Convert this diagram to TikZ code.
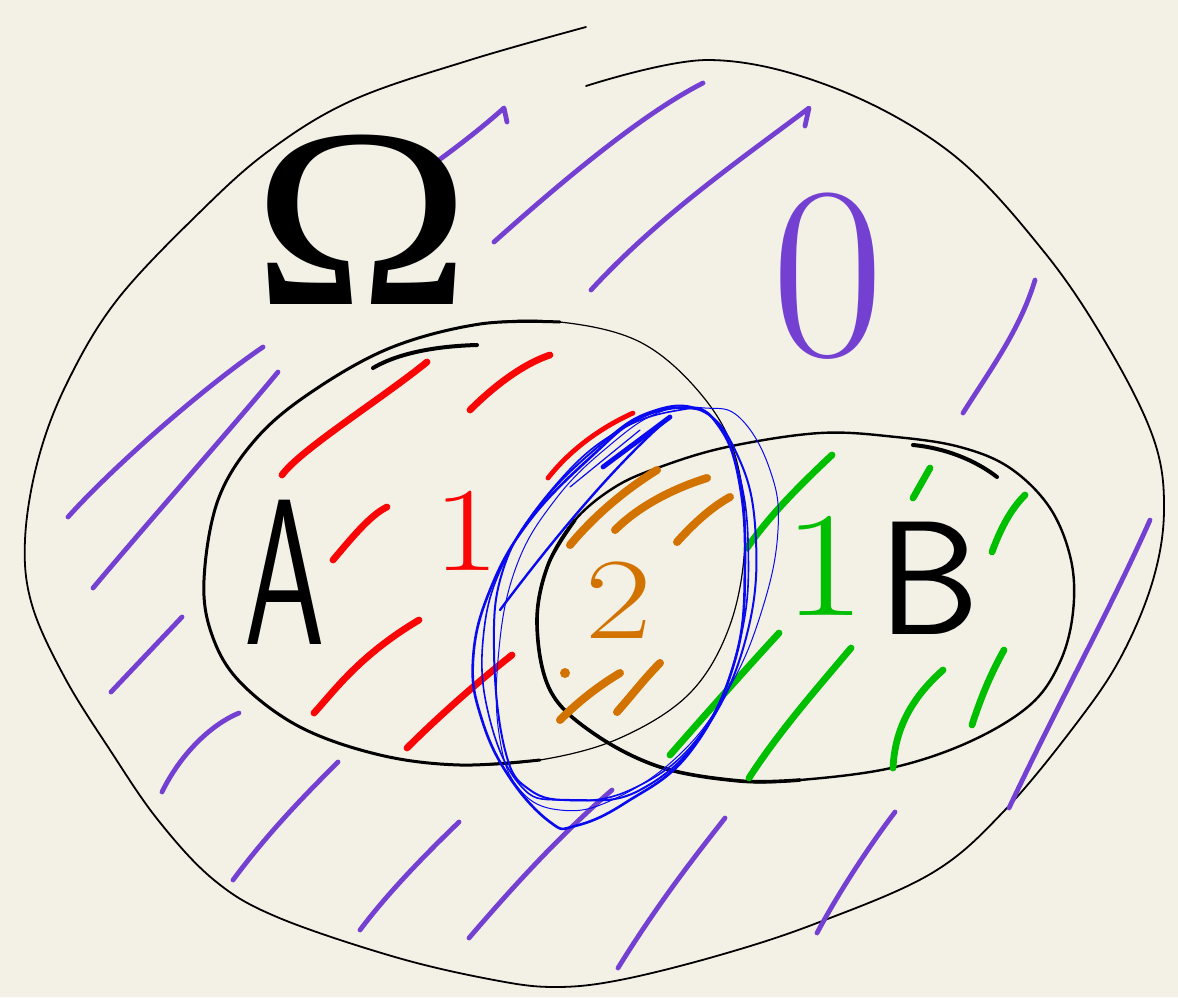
\documentclass[tikz,border=0pt]{standalone}
\usepackage{fontspec}
\newfontfamily\omegafont{Liberation Serif}
\definecolor{paper}{RGB}{243,240,230}
\definecolor{omegapurple}{RGB}{115,64,210}
\definecolor{setred}{RGB}{250,5,5}
\definecolor{setgreen}{RGB}{0,190,0}
\definecolor{setorange}{RGB}{210,115,0}
\definecolor{setblue}{RGB}{10,10,240}

\begin{document}
\begin{tikzpicture}[x=0.5pt,y=-0.5pt,
  pen/.style={line cap=round,line join=round},
  rim/.style={pen,black,line width=0.9pt},
  hatchO/.style={pen,omegapurple,line width=2.4pt},
  hatchA/.style={pen,setred,line width=3.4pt},
  hatchB/.style={pen,setgreen,line width=3.4pt},
  hatchAB/.style={pen,setorange,line width=4pt},
  blueloop/.style={pen,setblue},
  lab/.style={inner sep=0pt}]
  \fill[paper] (0,0) rectangle (1178,997);
  \useasboundingbox (0,0) rectangle (1178,997);

  \draw[rim] plot[smooth,tension=0.6] coordinates {(586,27) (470,60) (353,100) (270,150) (200,212) (117,300) (67,383) (38,460) (25,540) (32,605) (65,678) (110,750) (158,820) (214,880) (277,917) (395,957) (494,980) (555,987) (620,980) (720,955) (817,923) (932,873) (1005,810) (1079,720) (1122,655) (1153,580) (1164,510) (1154,440) (1110,350) (1045,253) (951,153) (832,87) (708,60) (586,86)};

  \draw[rim,line width=0.6pt] plot[smooth cycle,tension=0.6] coordinates {(204,580) (218,500) (255,440) (310,393) (390,348) (480,324) (560,322) (640,342) (700,393) (735,455) (745,540) (730,625) (690,693) (620,738) (540,760) (460,765) (380,755) (300,727) (240,682) (212,635)};
  \draw[rim,line width=1.5pt] plot[smooth,tension=0.6] coordinates {(540,760) (460,765) (380,755) (300,727) (240,682) (212,635) (204,580) (218,500) (255,440) (310,393) (390,348) (480,324) (560,322)};
  \draw[rim,line width=2pt] (373,368) .. controls (400,352) and (440,346) .. (477,345);

  \draw[rim,line width=1.2pt] plot[smooth cycle,tension=0.6] coordinates {(537,623) (548,565) (575,520) (615,487) (660,467) (727,447) (820,433) (896,437) (960,447) (1010,468) (1050,508) (1071,560) (1073,612) (1060,662) (1030,705) (969,742) (891,768) (800,780) (740,781) (660,767) (593,733) (550,690)};
  \draw[rim,line width=1.8pt] plot[smooth,tension=0.6] coordinates {(575,520) (548,565) (537,623) (550,690) (593,733) (660,767) (740,781) (800,780)};
  \draw[rim,line width=2pt] (913,445) .. controls (945,448) and (975,460) .. (997,477);

  \draw[hatchO] (432,165) .. controls (460,145) and (485,125) .. (504,108) -- (507,122);
  \draw[hatchO] (494,242) .. controls (580,165) and (650,110) .. (703,83);
  \draw[hatchO] (591,290) .. controls (660,215) and (740,160) .. (809,108) -- (805,126);
  \draw[hatchO] (963,413) .. controls (990,370) and (1020,330) .. (1035,280);
  \draw[hatchO] (68,517) .. controls (110,470) and (200,390) .. (263,347);
  \draw[hatchO] (93,588) .. controls (150,520) and (230,430) .. (278,372);
  \draw[hatchO] (111,692) -- (182,617);
  \draw[hatchO] (162,792) .. controls (180,755) and (210,725) .. (239,713);
  \draw[hatchO] (233,880) .. controls (270,830) and (310,790) .. (338,762);
  \draw[hatchO] (360,930) .. controls (390,890) and (430,850) .. (459,822);
  \draw[hatchO] (469,938) .. controls (510,890) and (560,835) .. (612,790);
  \draw[hatchO] (618,968) .. controls (660,900) and (700,850) .. (725,818);
  \draw[hatchO] (817,933) .. controls (840,890) and (870,845) .. (895,812);
  \draw[hatchO] (1009,808) .. controls (1060,700) and (1110,610) .. (1150,520);

  \draw[hatchA] (282,475) .. controls (300,450) and (380,400) .. (427,362);
  \draw[hatchA] (470,410) .. controls (490,390) and (520,365) .. (550,355);
  \draw[hatchA] (333,560) .. controls (350,540) and (370,515) .. (387,507);
  \draw[hatchA] (314,713) .. controls (335,690) and (360,655) .. (419,620);
  \draw[hatchA] (407,748) .. controls (440,715) and (480,680) .. (512,655);
  \draw[hatchA,line width=2.4pt] (548,478) .. controls (570,450) and (600,428) .. (633,413);

  \draw[hatchB] (747,548) .. controls (770,515) and (800,485) .. (832,455);
  \draw[hatchB] (913,498) -- (930,468);
  \draw[hatchB] (992,552) .. controls (1000,530) and (1010,510) .. (1025,495);
  \draw[hatchB] (670,755) .. controls (705,715) and (745,670) .. (779,633);
  \draw[hatchB] (749,778) .. controls (780,730) and (820,685) .. (851,648);
  \draw[hatchB] (893,768) .. controls (895,725) and (915,695) .. (943,670);
  \draw[hatchB] (972,725) .. controls (980,700) and (990,675) .. (1004,650);

  \draw[hatchAB] (570,545) .. controls (595,515) and (625,490) .. (657,470);
  \draw[hatchAB] (615,530) .. controls (640,505) and (675,488) .. (707,478);
  \draw[hatchAB] (677,542) .. controls (695,522) and (712,507) .. (730,497);
  \draw[hatchAB] (617,712) .. controls (632,695) and (645,678) .. (660,663);
  \draw[hatchAB] (560,720) .. controls (580,700) and (600,685) .. (620,673);
  \fill[setorange] (565,673) circle (2.5pt);

  \node[lab,xscale=1.15] (omega) at (362,220) {\omegafont\fontsize{128}{128}\selectfont Ω};
  \node[lab,xscale=0.62] (labA) at (285,572) {\sffamily\fontsize{104}{104}\selectfont A};
  \node[lab,setred,xscale=1.2] (oneA) at (467,531) {\fontsize{60}{60}\selectfont 1};
  \node[lab,setorange,xscale=1.25] (two) at (619,600) {\fontsize{58}{58}\selectfont 2};
  \node[lab,omegapurple] (zero) at (828,276) {\fontsize{123}{123}\selectfont 0};
  \node[lab,setgreen,xscale=1.2] (oneB) at (825,566) {\fontsize{75}{75}\selectfont 1};
  \node[lab] (labB) at (929,578) {\sffamily\fontsize{81}{81}\selectfont B};

  \draw[blueloop,line width=1.3pt] plot[smooth cycle,tension=0.7] coordinates {(690,408) (640,418) (593,455) (530,520) (490,590) (473,660) (482,720) (510,778) (550,822) (575,826) (625,803) (690,752) (735,660) (745,560) (738,475) (718,425)};
  \draw[blueloop,line width=1pt] plot[smooth cycle,tension=0.7] coordinates {(700,410) (650,412) (600,445) (540,505) (503,570) (494,650) (505,750) (530,790) (575,800) (640,790) (705,730) (748,630) (755,525) (735,450)};
  \draw[blueloop,line width=0.5pt] plot[smooth cycle,tension=0.7] coordinates {(705,408) (740,418) (770,470) (778,530) (762,610) (728,690) (678,756) (612,800) (560,810) (520,790) (500,740) (498,660) (515,570) (555,500) (610,445) (660,412)};
  \draw[blueloop,line width=0.8pt] plot[smooth cycle,tension=0.7] coordinates {(680,410) (620,430) (560,480) (505,560) (483,640) (490,720) (520,785) (560,800) (630,790) (700,735) (740,640) (748,540) (735,460) (710,415)};
  \draw[blueloop,line width=1.2pt] (500,610) .. controls (560,530) and (620,460) .. (670,417);
  \draw[blueloop,line width=2.4pt] (603,467) -- (670,417);
  \draw[blueloop,line width=0.6pt] (570,487) -- (640,430);
\end{tikzpicture}
\end{document}
